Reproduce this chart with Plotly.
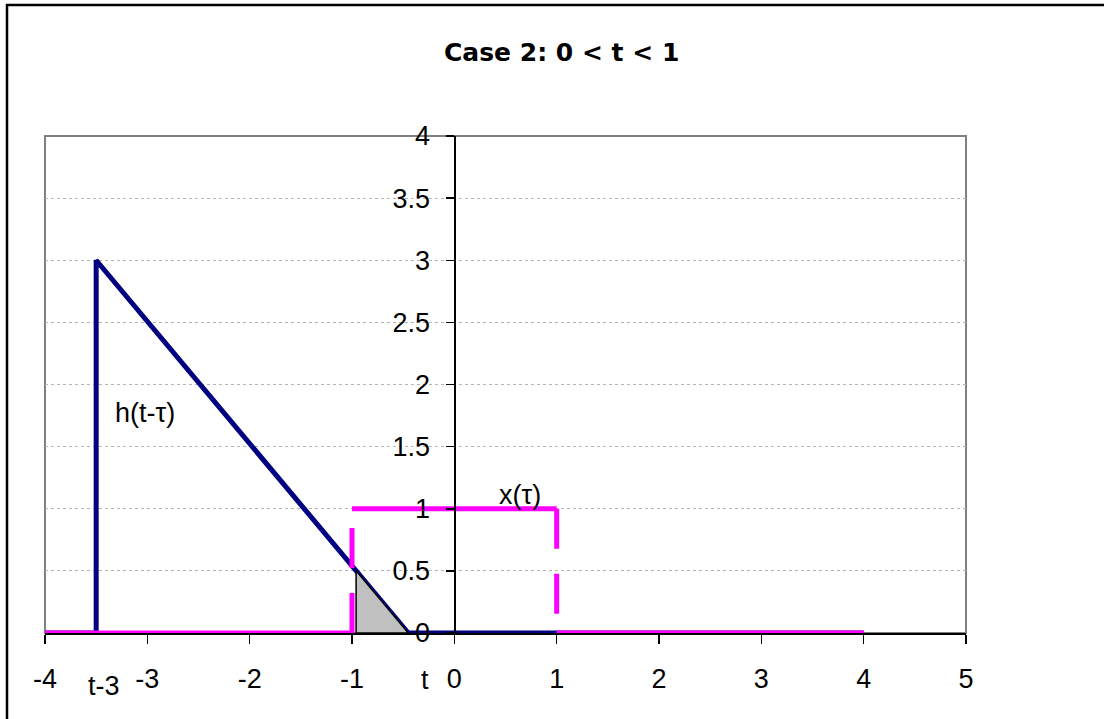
import plotly.graph_objects as go

# ---- data ----
tau_h = [-4, -3.5, -3.5, -0.45, 4]          # h(t - tau) breakpoints (t = 0.5)
h_vals = [0, 0, 3, 0, 0]
tau_x = [-4, -1, -1, 1, 1, 4]               # x(tau) breakpoints
x_vals = [0, 0, 1, 1, 0, 0]
shade_tau = [-0.96, -0.96, -0.45, -0.96]    # overlap region
shade_vals = [0, 0.5, 0, 0]
x_ticks = [-4, -3, -2, -1, 0, 1, 2, 3, 4, 5]
y_ticks = [0, 0.5, 1, 1.5, 2, 2.5, 3, 3.5, 4]
y_tick_text = ["0", "0.5", "1", "1.5", "2", "2.5", "3", "3.5", "4"]
title_text = "Case 2: 0 < t < 1"

FONT = "Liberation Sans, Arial, sans-serif"
TITLE_FONT = "DejaVu Sans, Liberation Sans, Arial, sans-serif"
NAVY = "#000080"
PINK = "#FF00FF"
FS = 27

W, H = 1104, 719
L, R, T, B = 45, 1104 - 966, 136, 719 - 633
PW, PH = W - L - R, H - T - B


def px(x):
    return (x - L) / PW


def py(y):
    return (H - B - y) / PH


fig = go.Figure()

fig.add_trace(go.Scatter(x=tau_h, y=h_vals, mode="lines",
                         line=dict(color=NAVY, width=5), hoverinfo="skip",
                         showlegend=False))

# x(tau): each segment drawn separately (vertical ones dashed, like Excel)
for i in range(len(tau_x) - 1):
    xs = tau_x[i:i + 2]
    ys = x_vals[i:i + 2]
    vertical = xs[0] == xs[1]
    fig.add_trace(go.Scatter(x=xs, y=ys, mode="lines",
                             line=dict(color=PINK, width=5,
                                       dash="40px,25px" if vertical else "solid"),
                             hoverinfo="skip", showlegend=False))

fig.add_trace(go.Scatter(x=shade_tau, y=shade_vals, mode="lines", fill="toself",
                         fillcolor="#C0C0C0", line=dict(color="black", width=1.5),
                         hoverinfo="skip", showlegend=False))


def ann(text, x, y, xref="paper", yref="paper", size=FS, family=FONT):
    return dict(text=text, xref=xref, yref=yref, x=x, y=y, showarrow=False,
                xanchor="center", yanchor="middle",
                font=dict(size=size, color="black", family=family))


annotations = [
    ann("<b>" + title_text + "</b>", px(561), py(52), size=25, family=TITLE_FONT),
    ann("h(t-τ)", -3.02, 1.77, "x", "y"),
    ann("x(τ)", 0.64, 1.11, "x", "y"),
    ann("t-3", px(104), py(686)),
    ann("t", px(425), py(680)),
]

shapes = [
    # plot area border
    dict(type="rect", xref="x domain", yref="y domain", x0=0, x1=1, y0=0, y1=1,
         line=dict(color="#808080", width=2), layer="below"),
    # outer chart border
    dict(type="rect", xref="paper", yref="paper", x0=px(7), y0=py(5), x1=px(1112),
         y1=py(730), line=dict(color="black", width=2.5), layer="below"),
]

fig.update_layout(
    width=W, height=H,
    margin=dict(l=L, r=R, t=T, b=B),
    paper_bgcolor="white", plot_bgcolor="white",
    font=dict(family=FONT, size=FS, color="black"),
    showlegend=False,
    annotations=annotations,
    shapes=shapes,
    xaxis=dict(range=[-4, 5], tickvals=x_ticks, ticktext=[str(v) for v in x_ticks],
               showgrid=False, zeroline=False, showline=True, linecolor="black",
               linewidth=1.5, ticks="outside", ticklen=9, tickwidth=1.5,
               tickcolor="black", ticklabelstandoff=12, fixedrange=True),
    yaxis=dict(range=[0, 4], tickvals=y_ticks, ticktext=y_tick_text,
               anchor="free", position=4 / 9,
               showgrid=True, gridcolor="#b4b4b4", griddash="dot", gridwidth=1,
               zeroline=False, showline=True, linecolor="black", linewidth=1.5,
               ticks="outside", ticklen=8, tickwidth=1.5, tickcolor="black",
               ticklabelstandoff=11, fixedrange=True),
)

fig.write_html("out.html",
               config={"displayModeBar": False, "staticPlot": True},
               post_script="document.body.style.margin='0';"
                           "document.body.style.overflow='hidden';")
